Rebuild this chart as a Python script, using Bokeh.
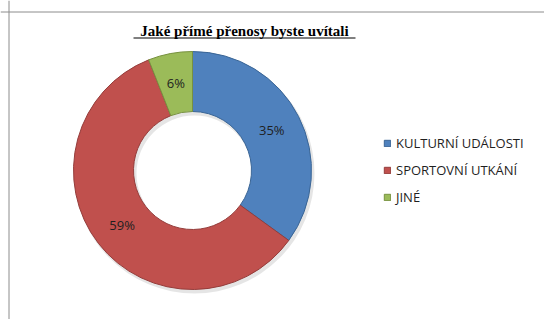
import numpy as np
from bokeh.plotting import figure
from bokeh.models import ColumnDataSource, Range1d, Span, Label, Legend, LegendItem
from bokeh.core.properties import value
from bokeh.embed import file_html
from bokeh.resources import INLINE

# ---- data ----
title_text = "Jaké přímé přenosy byste uvítali"
categories = ["KULTURNÍ UDÁLOSTI", "SPORTOVNÍ UTKÁNÍ", "JINÉ"]
shares = [35, 59, 6]
colors = ["#4F81BD", "#C0504D", "#9BBB59"]
edge_colors = ["#3A6595", "#943D3B", "#77913F"]

W, H = 544, 319
p = figure(width=W, height=H, output_backend="svg", toolbar_location=None,
           x_range=Range1d(0, W), y_range=Range1d(0, H),
           x_axis_location=None, y_axis_location=None, min_border=0)
p.grid.visible = False
p.outline_line_color = None
p.background_fill_color = "white"
p.border_fill_color = "white"

# chart frame (top + left edges visible, rest cropped)
p.add_layout(Span(location=8.5, dimension="height", line_color="#8c8c8c", line_width=1))
p.add_layout(Span(location=H - 11.5, dimension="width", line_color="#8c8c8c", line_width=1))

# donut geometry
cx, cy = 192, 149
r_out, r_in = 119, 59

vals = np.array(shares, dtype=float)
frac = vals / vals.sum()
cum = np.concatenate([[0], np.cumsum(frac)[:-1]])
start_top = np.pi / 2 - 2 * np.pi * cum          # clockwise from 12 o'clock
end_top = start_top - 2 * np.pi * frac
mid = (start_top + end_top) / 2

src = ColumnDataSource(dict(
    cat=categories, share=shares, color=colors, edge=edge_colors,
    start=end_top, end=start_top,
    lx=cx + (r_out + r_in) / 2 * np.cos(mid),
    ly=cy + (r_out + r_in) / 2 * np.sin(mid),
    lab=[f"{s}%" for s in shares],
))

# soft shadow
p.annular_wedge(x=cx + 2, y=cy - 3, inner_radius=r_in - 1, outer_radius=r_out + 1,
                start_angle=0, end_angle=2 * np.pi, fill_color="#000000",
                fill_alpha=0.10, line_color=None)

wedges = p.annular_wedge(x=cx, y=cy, inner_radius=r_in, outer_radius=r_out,
                         start_angle="start", end_angle="end", source=src,
                         fill_color="color", line_color="edge", line_width=1)

p.text(x="lx", y="ly", text="lab", source=src, text_align="center",
       text_baseline="middle", text_font=value("Open Sans"),
       text_font_size="13px", text_color="#1f1f1f")

# title (underlined)
title_x, title_y = 244, 289
p.add_layout(Label(x=title_x, y=title_y, text=title_text, text_align="center",
                   text_baseline="middle", text_font="Liberation Serif",
                   text_font_style="bold", text_font_size="15px", text_color="#000000"))
p.segment(x0=[title_x - 111], y0=[281.5], x1=[title_x + 111], y1=[281.5],
          line_color="#000000", line_width=1)

legend = Legend(items=[LegendItem(label=c, renderers=[wedges], index=i)
                       for i, c in enumerate(categories)],
                location=(383, 113), orientation="vertical",
                glyph_width=8, glyph_height=8, label_standoff=5,
                label_height=18, spacing=9, padding=0, margin=0,
                border_line_color=None, background_fill_alpha=0,
                label_text_font="Open Sans", label_text_font_size="13px",
                label_text_color="#1f1f1f")
p.add_layout(legend)

open("out.html", "w").write(file_html(p, INLINE))
